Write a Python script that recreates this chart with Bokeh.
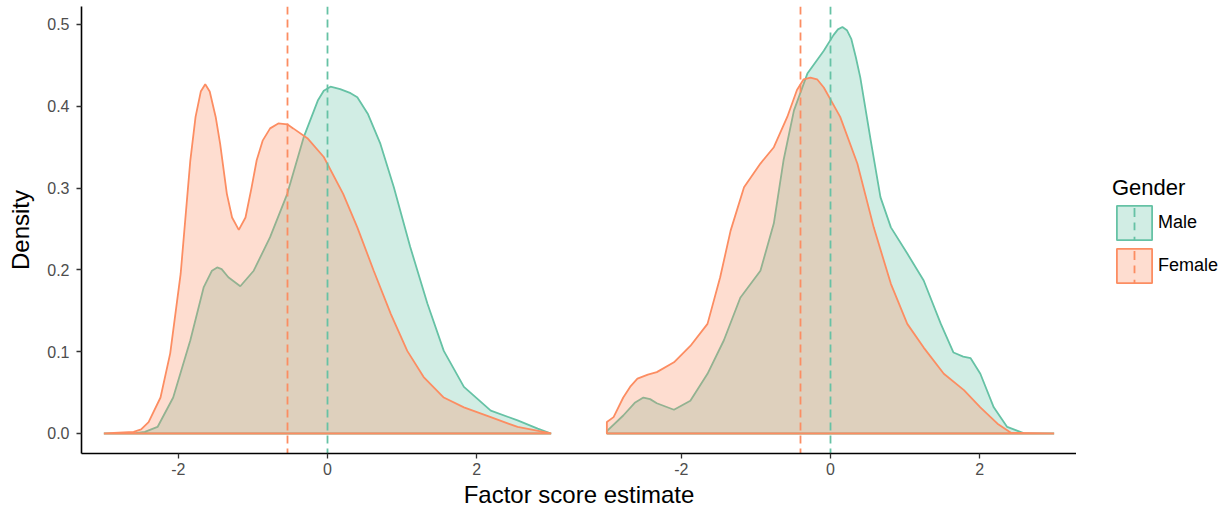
from bokeh.plotting import figure
from bokeh.layouts import row
from bokeh.models import Range1d, FixedTicker, Legend, LegendItem
from bokeh.embed import file_html
from bokeh.resources import INLINE

# ---------------- data ----------------
genders = ["Male", "Female"]
colors = {"Male": "#66C2A5", "Female": "#FC8D62"}

left_male_x = [-3.0, -2.6, -2.45, -2.28, -2.07, -1.84, -1.66, -1.55, -1.48, -1.42, -1.33,
               -1.17, -0.99, -0.77, -0.54, -0.32, -0.13, -0.05, 0.04, 0.17, 0.31, 0.40, 0.54,
               0.71, 0.89, 1.11, 1.34, 1.56, 1.83, 2.19, 2.55, 2.82, 3.0]
left_male_y = [0.0, 0.0, 0.002, 0.008, 0.044, 0.114, 0.179, 0.199, 0.203, 0.201, 0.191,
               0.180, 0.199, 0.240, 0.293, 0.362, 0.407, 0.419, 0.424, 0.421, 0.416, 0.411,
               0.391, 0.354, 0.301, 0.228, 0.159, 0.101, 0.057, 0.028, 0.016, 0.006, 0.0]

left_female_x = [-3.0, -2.6, -2.5, -2.4, -2.24, -2.11, -1.97, -1.84, -1.77, -1.70, -1.64,
                 -1.58, -1.50, -1.44, -1.35, -1.28, -1.19, -1.10, -1.02, -0.95, -0.87, -0.77,
                 -0.66, -0.54, -0.46, -0.27, -0.05, 0.21, 0.40, 0.62, 0.85, 1.07, 1.29, 1.56,
                 1.83, 2.19, 2.55, 2.95, 3.0]
left_female_y = [0.0, 0.002, 0.005, 0.014, 0.044, 0.098, 0.195, 0.334, 0.387, 0.418, 0.427,
                 0.418, 0.387, 0.354, 0.293, 0.264, 0.249, 0.264, 0.300, 0.334, 0.358, 0.373,
                 0.379, 0.378, 0.373, 0.361, 0.338, 0.293, 0.252, 0.199, 0.146, 0.101, 0.069,
                 0.044, 0.032, 0.020, 0.008, 0.001, 0.0]

right_male_x = [-3.0, -2.78, -2.62, -2.51, -2.42, -2.33, -2.10, -1.88, -1.65, -1.43, -1.21,
                -0.94, -0.76, -0.63, -0.49, -0.31, -0.09, 0.04, 0.10, 0.16, 0.22, 0.28, 0.34,
                0.40, 0.54, 0.67, 0.81, 1.03, 1.25, 1.48, 1.65, 1.78, 1.88, 2.01, 2.19, 2.37,
                2.59, 3.0]
right_male_y = [0.003, 0.022, 0.038, 0.044, 0.042, 0.037, 0.029, 0.040, 0.073, 0.114, 0.166,
                0.199, 0.257, 0.334, 0.395, 0.440, 0.468, 0.487, 0.494, 0.497, 0.493, 0.482,
                0.460, 0.435, 0.358, 0.289, 0.252, 0.220, 0.187, 0.134, 0.099, 0.094, 0.092,
                0.073, 0.032, 0.008, 0.0005, 0.0]

right_female_x = [-3.0, -2.91, -2.78, -2.68, -2.59, -2.45, -2.33, -2.10, -1.88, -1.65, -1.48,
                  -1.34, -1.16, -0.94, -0.76, -0.58, -0.45, -0.36, -0.27, -0.18, -0.09, 0.13,
                  0.36, 0.58, 0.81, 1.03, 1.25, 1.52, 1.79, 2.01, 2.24, 2.42, 3.0]
right_female_y = [0.014, 0.020, 0.044, 0.058, 0.067, 0.072, 0.075, 0.087, 0.107, 0.134, 0.191,
                  0.248, 0.301, 0.330, 0.350, 0.387, 0.420, 0.433, 0.435, 0.433, 0.423, 0.387,
                  0.330, 0.252, 0.183, 0.134, 0.105, 0.073, 0.053, 0.032, 0.012, 0.001, 0.0]

left_means = {"Male": 0.0, "Female": -0.54}
right_means = {"Male": 0.0, "Female": -0.40}

x_ticks = [-2, 0, 2]
x_tick_labels = ["-2", "0", "2"]
y_ticks = [0.0, 0.1, 0.2, 0.3, 0.4, 0.5]
y_tick_labels = ["0.0", "0.1", "0.2", "0.3", "0.4", "0.5"]

x_title = "Factor score estimate"
y_title = "Density"
legend_title = "Gender"

FONT = "Liberation Sans"

# ---------------- layout geometry ----------------
PANEL_W = 492            # pixel width of one facet panel
PANEL_GAP = 11           # pixel gap between the facets
X_LO, X_HI = -3.3, 3.3   # data range shown in each facet
px_per_unit = PANEL_W / (X_HI - X_LO)
FRAME_W = 2 * PANEL_W + PANEL_GAP
span_units = FRAME_W / px_per_unit
shift = (PANEL_W + PANEL_GAP) / px_per_unit   # data offset of the right facet
Y_RANGE = (-0.02445, 0.522)

p = figure(frame_width=FRAME_W, frame_height=447,
           x_range=Range1d(X_LO, X_LO + span_units),
           y_range=Range1d(*Y_RANGE),
           output_backend="svg", toolbar_location=None,
           min_border_left=81, min_border_right=0, min_border_top=6, min_border_bottom=0)
p.extra_x_ranges = {"right": Range1d(X_HI - span_units, X_HI)}
p.grid.visible = False
p.outline_line_color = None
p.background_fill_color = "white"
p.border_fill_color = "white"

for ax in p.axis:
    ax.axis_line_color = "black"
    ax.axis_line_width = 1.6
    ax.major_tick_line_color = "#333333"
    ax.major_tick_line_width = 1.3
    ax.major_tick_in = 0
    ax.major_tick_out = 5
    ax.minor_tick_line_color = None
    ax.major_label_text_font = FONT
    ax.major_label_text_font_size = "16px"
    ax.major_label_text_color = "#4D4D4D"
    ax.axis_label_text_font = FONT
    ax.axis_label_text_font_size = "24px"
    ax.axis_label_text_font_style = "normal"
    ax.axis_label_text_color = "black"

all_x_ticks = list(x_ticks) + [t + shift for t in x_ticks]
p.xaxis.ticker = FixedTicker(ticks=all_x_ticks)
p.xaxis.major_label_overrides = dict(zip(all_x_ticks, x_tick_labels + x_tick_labels))
p.xaxis.major_label_standoff = 4
p.xaxis.axis_label = x_title
p.xaxis.axis_label_standoff = 3

p.yaxis.ticker = FixedTicker(ticks=y_ticks)
p.yaxis.major_label_overrides = dict(zip(y_ticks, y_tick_labels))
p.yaxis.major_label_standoff = 7
p.yaxis.axis_label = y_title
p.yaxis.axis_label_standoff = 10


def draw_densities(fig, series, range_name="default", **extra):
    out = {}
    for g in genders:
        xs, ys = series[g]
        px = [xs[0]] + list(xs) + [xs[-1]]
        py = [0.0] + list(ys) + [0.0]
        out[g] = fig.patch(px, py, fill_color=colors[g], fill_alpha=0.3,
                           line_color=colors[g], line_width=1.8,
                           x_range_name=range_name, **extra)
    return out


def draw_means(fig, means, range_name="default"):
    for g in genders:
        fig.vspan(x=[means[g]], line_color=colors[g], line_width=1.8,
                  line_dash="8 5", x_range_name=range_name)


left_series = {"Male": (left_male_x, left_male_y), "Female": (left_female_x, left_female_y)}
right_series = {"Male": (right_male_x, right_male_y), "Female": (right_female_x, right_female_y)}

draw_densities(p, left_series)
draw_densities(p, right_series, range_name="right")
draw_means(p, left_means)
draw_means(p, right_means, range_name="right")

# ---------------- legend (own small canvas to the right) ----------------
# this canvas shows no data; its y range lies away from the data so only the legend is seen
pl = figure(frame_width=144, frame_height=447, x_range=Range1d(X_LO, X_HI),
            y_range=Range1d(1.0, 2.0), output_backend="svg", toolbar_location=None,
            x_axis_location=None, y_axis_location=None,
            min_border_left=0, min_border_right=0, min_border_top=6, min_border_bottom=0)
pl.grid.visible = False
pl.outline_line_color = None
pl.background_fill_color = "white"
pl.border_fill_color = "white"
key_box = draw_densities(pl, right_series, visible=False)
# a very narrow ellipse draws a vertical line in the key: the mean-line key
key_line = {}
for g in genders:
    key_line[g] = pl.ellipse(x=[right_means[g]], y=[0.0], width=0.001, height=0.1,
                             fill_color=None, line_color=colors[g], line_width=1.8,
                             line_dash="7 7")

legend = Legend(items=[LegendItem(label=g, renderers=[key_box[g], key_line[g]])
                       for g in genders],
                location=(36, 166), title=legend_title,
                title_text_font=FONT, title_text_font_size="22px", title_text_font_style="normal",
                title_text_color="black", title_standoff=0,
                label_text_font=FONT, label_text_font_size="18px", label_text_color="black",
                glyph_width=44, glyph_height=43, label_height=43, spacing=0, label_standoff=2,
                padding=0, margin=0, border_line_color=None, background_fill_alpha=0)
pl.add_layout(legend, "center")

layout = row(p, pl)
open("out.html", "w").write(file_html(layout, INLINE))
